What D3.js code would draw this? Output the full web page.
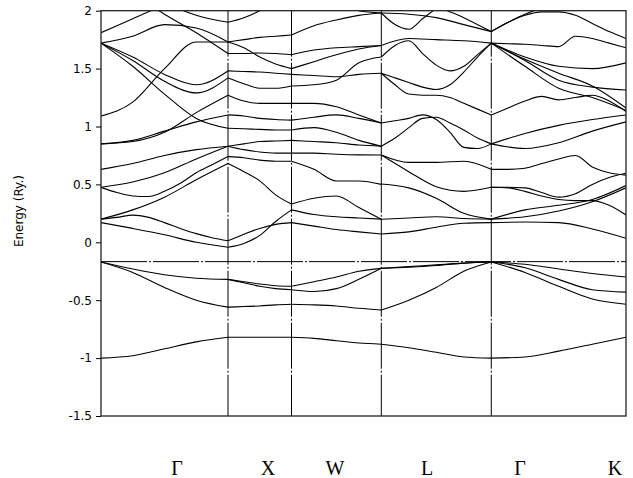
<!DOCTYPE html>
<html>
<head>
<meta charset="utf-8">
<script src="https://cdn.jsdelivr.net/npm/d3@7"></script>
<style>
  body { margin: 0; background: #fff; }
</style>
</head>
<body>
<div id="chart"></div>
<script>
// Data: high-symmetry path and band energies (Ry.)
//= ================================
var kLabels = ["Γ", "X", "W", "L", "Γ", "K"];
var kTicks = [0, 1, 1.5, 2.2071, 3.0731, 4.1338];
var yTicks = [-1.5, -1, -0.5, 0, 0.5, 1, 1.5, 2];
var fermiLevel = -0.167;

// each segment: list of bands, energies at evenly spaced k points
var bandsGX = [
  [-1.0, -0.98, -0.92, -0.86, -0.82],
  [-0.17, -0.26, -0.39, -0.50, -0.56],
  [-0.17, -0.23, -0.28, -0.31, -0.32],
  [0.17, 0.12, 0.065, 0.0, -0.043],
  [0.20, 0.215, 0.235, 0.215, 0.17, 0.12, 0.075, 0.04, 0.014],
  [0.20, 0.28, 0.39, 0.54, 0.68],
  [0.475, 0.43, 0.40, 0.395, 0.44, 0.51, 0.60, 0.67, 0.74],
  [0.475, 0.52, 0.60, 0.72, 0.83],
  [0.63, 0.68, 0.75, 0.80, 0.83],
  [0.85, 0.87, 0.95, 1.12, 1.27],
  [0.85, 0.88, 0.96, 1.04, 1.10],
  [1.09, 1.21, 1.50, 1.73, 1.73],
  [1.72, 1.60, 1.45, 1.36, 1.48],
  [1.72, 1.57, 1.39, 1.29, 1.42],
  [1.72, 1.52, 1.28, 1.07, 0.985],
  [1.72, 1.78, 1.88, 1.85, 1.73],
  [1.81, 1.93, 2.05, 2.15, 2.2],
  [2.4, 2.15, 1.97, 1.81, 1.63],
  [2.5, 2.3, 2.08, 1.96, 1.90]
];

var bandsXW = [
  [-0.82, -0.82, -0.82, -0.82, -0.82],
  [-0.56, -0.555, -0.55, -0.54, -0.535],
  [-0.32, -0.34, -0.36, -0.375, -0.38],
  [-0.32, -0.35, -0.38, -0.40, -0.41],
  [-0.043, -0.01, 0.06, 0.18, 0.28],
  [0.014, 0.07, 0.12, 0.155, 0.17],
  [0.68, 0.61, 0.53, 0.41, 0.33],
  [0.74, 0.73, 0.71, 0.70, 0.70],
  [0.83, 0.80, 0.78, 0.77, 0.77],
  [0.83, 0.85, 0.87, 0.875, 0.88],
  [0.985, 0.98, 0.975, 0.97, 0.97],
  [1.10, 1.09, 1.07, 1.06, 1.055],
  [1.27, 1.22, 1.20, 1.20, 1.20],
  [1.42, 1.37, 1.33, 1.33, 1.35],
  [1.48, 1.475, 1.47, 1.46, 1.45],
  [1.73, 1.68, 1.60, 1.54, 1.50],
  [1.63, 1.63, 1.635, 1.63, 1.62],
  [1.73, 1.75, 1.77, 1.78, 1.79],
  [1.90, 1.94, 2.0, 2.08, 2.15]
];

var bandsWL = [
  [-0.82, -0.83, -0.85, -0.87, -0.88],
  [-0.535, -0.54, -0.55, -0.57, -0.585],
  [-0.38, -0.34, -0.30, -0.25, -0.225],
  [-0.41, -0.425, -0.40, -0.32, -0.225],
  [0.28, 0.24, 0.22, 0.21, 0.20],
  [0.17, 0.14, 0.11, 0.09, 0.072],
  [0.33, 0.38, 0.40, 0.30, 0.20],
  [0.70, 0.63, 0.53, 0.53, 0.50],
  [0.77, 0.77, 0.76, 0.755, 0.754],
  [0.88, 0.87, 0.86, 0.84, 0.83],
  [0.97, 0.99, 0.95, 0.88, 0.83],
  [1.055, 1.08, 1.10, 1.07, 1.03],
  [1.20, 1.20, 1.17, 1.10, 1.03],
  [1.35, 1.36, 1.40, 1.55, 1.60],
  [1.45, 1.44, 1.43, 1.45, 1.46],
  [1.50, 1.56, 1.62, 1.67, 1.70],
  [1.62, 1.66, 1.68, 1.69, 1.70],
  [1.79, 1.87, 1.92, 1.96, 1.98],
  [2.15, 2.1, 2.05, 2.0, 1.98]
];

var bandsLG = [
  [-0.88, -0.91, -0.95, -0.99, -1.0],
  [-0.585, -0.50, -0.39, -0.25, -0.17],
  [-0.225, -0.21, -0.195, -0.18, -0.17],
  [-0.225, -0.215, -0.20, -0.18, -0.17],
  [0.072, 0.09, 0.13, 0.165, 0.17],
  [0.199, 0.21, 0.22, 0.205, 0.20],
  [0.503, 0.47, 0.38, 0.25, 0.20],
  [0.754, 0.61, 0.48, 0.44, 0.475],
  [0.754, 0.69, 0.69, 0.70, 0.63],
  [0.83, 0.90, 0.99, 1.07, 1.08, 1.03, 0.97, 0.90, 0.85],
  [1.03, 1.05, 1.07, 1.10, 1.06, 0.95, 0.82, 0.81, 0.85],
  [1.46, 1.36, 1.28, 1.27, 1.27, 1.25, 1.20, 1.15, 1.10],
  [1.46, 1.42, 1.38, 1.34, 1.32, 1.36, 1.47, 1.60, 1.72],
  [1.60, 1.70, 1.74, 1.63, 1.53, 1.48, 1.52, 1.62, 1.72],
  [1.70, 1.76, 1.75, 1.74, 1.72],
  [1.98, 1.97, 1.94, 1.88, 1.82],
  [1.98, 1.88, 1.84, 1.93, 2.02, 2.1, 2.2, 2.3, 2.4],
  [2.5, 2.25, 2.05, 1.94, 1.82]
];

var bandsGK = [
  [-1.0, -0.99, -0.94, -0.88, -0.82],
  [-0.17, -0.26, -0.38, -0.49, -0.535],
  [-0.17, -0.19, -0.23, -0.27, -0.30],
  [-0.17, -0.22, -0.32, -0.41, -0.43],
  [0.17, 0.175, 0.17, 0.115, 0.035],
  [0.2, 0.28, 0.32, 0.37, 0.49],
  [0.2, 0.22, 0.27, 0.35, 0.47],
  [0.475, 0.47, 0.44, 0.40, 0.37, 0.36, 0.36, 0.32, 0.236],
  [0.475, 0.475, 0.47, 0.43, 0.39, 0.42, 0.50, 0.56, 0.596],
  [0.63, 0.63, 0.64, 0.68, 0.72, 0.75, 0.65, 0.60, 0.58],
  [0.85, 0.81, 0.86, 0.96, 1.04],
  [0.85, 0.94, 1.01, 1.06, 1.10],
  [1.10, 1.16, 1.22, 1.26, 1.23, 1.25, 1.27, 1.22, 1.13],
  [1.72, 1.58, 1.46, 1.35, 1.16],
  [1.72, 1.60, 1.52, 1.50, 1.55],
  [1.72, 1.57, 1.40, 1.34, 1.315],
  [1.72, 1.52, 1.33, 1.25, 1.14],
  [1.72, 1.715, 1.71, 1.70, 1.69, 1.78, 1.76, 1.72, 1.68],
  [1.82, 1.90, 1.96, 1.99, 1.99, 1.96, 1.89, 1.82, 1.76],
  [1.82, 1.97, 2.06, 2.1, 2.1]
];

var segments = [bandsGX, bandsXW, bandsWL, bandsLG, bandsGK];

// Layout
//= ================================
var svgWidth = 633;
var svgHeight = 478;
var margin = { top: 10.7, right: 7, bottom: 62, left: 101 };
var width = svgWidth - margin.left - margin.right;
var height = svgHeight - margin.top - margin.bottom;
// label x positions (px) under the plot, as in the original figure
var labelPos = [177, 268, 335, 427, 520, 615];

var svg = d3.select("#chart")
  .append("svg")
  .attr("width", svgWidth)
  .attr("height", svgHeight);

var chartGroup = svg.append("g")
  .attr("transform", `translate(${margin.left}, ${margin.top})`);

var xScale = d3.scaleLinear()
  .domain([kTicks[0], kTicks[kTicks.length - 1]])
  .range([0, width]);

var yScale = d3.scaleLinear()
  .domain([-1.5, 2])
  .range([height, 0]);

chartGroup.append("clipPath")
  .attr("id", "plotClip")
  .append("rect")
  .attr("width", width)
  .attr("height", height);

// dash-dot guide lines (high symmetry points + Fermi level)
var dash = "46,2,2,2";
chartGroup.selectAll(".kline")
  .data(kTicks.slice(1, -1))
  .enter()
  .append("line")
  .attr("x1", d => xScale(d))
  .attr("x2", d => xScale(d))
  .attr("y1", 0)
  .attr("y2", height)
  .attr("stroke", "#000")
  .attr("stroke-width", 1)
  .attr("stroke-dasharray", dash);

chartGroup.append("line")
  .attr("x1", 0)
  .attr("x2", width)
  .attr("y1", yScale(fermiLevel))
  .attr("y2", yScale(fermiLevel))
  .attr("stroke", "#000")
  .attr("stroke-width", 1)
  .attr("stroke-dasharray", dash);

// bands
var line = d3.line()
  .x(d => xScale(d[0]))
  .y(d => yScale(d[1]))
  .curve(d3.curveMonotoneX);

var paths = [];
segments.forEach(function(bands, s) {
  var k0 = kTicks[s], k1 = kTicks[s + 1];
  bands.forEach(function(vals) {
    var n = vals.length - 1;
    paths.push(vals.map((e, i) => [k0 + (k1 - k0) * i / n, e]));
  });
});

chartGroup.append("g")
  .attr("clip-path", "url(#plotClip)")
  .selectAll("path")
  .data(paths)
  .enter()
  .append("path")
  .attr("d", line)
  .attr("fill", "none")
  .attr("stroke", "#000")
  .attr("stroke-width", 1.1);

// frame
chartGroup.append("rect")
  .attr("width", width)
  .attr("height", height)
  .attr("fill", "none")
  .attr("stroke", "#222")
  .attr("stroke-width", 1.3);

// y axis ticks (plain hyphen minus, as in the original)
var leftAxis = d3.axisLeft(yScale)
  .tickValues(yTicks)
  .tickSize(5)
  .tickFormat(d => String(d));

var yAxisG = chartGroup.append("g").call(leftAxis);
yAxisG.select(".domain").remove();
yAxisG.selectAll("text")
  .attr("font-family", "DejaVu Sans, sans-serif")
  .attr("font-size", "12px")
  .attr("fill", "#000")
  .attr("dx", "-1");

// axis title
svg.append("text")
  .attr("transform", `translate(23, ${margin.top + yScale(0.27)}) rotate(-90)`)
  .attr("text-anchor", "middle")
  .attr("font-family", "DejaVu Sans, sans-serif")
  .attr("font-size", "12px")
  .text("Energy (Ry.)");

// k point labels
svg.selectAll(".klabel")
  .data(kLabels)
  .enter()
  .append("text")
  .attr("x", (d, i) => labelPos[i])
  .attr("y", 475)
  .attr("text-anchor", "middle")
  .attr("font-family", "Liberation Serif, serif")
  .attr("font-size", "20px")
  .text(d => d);
</script>
</body>
</html>
